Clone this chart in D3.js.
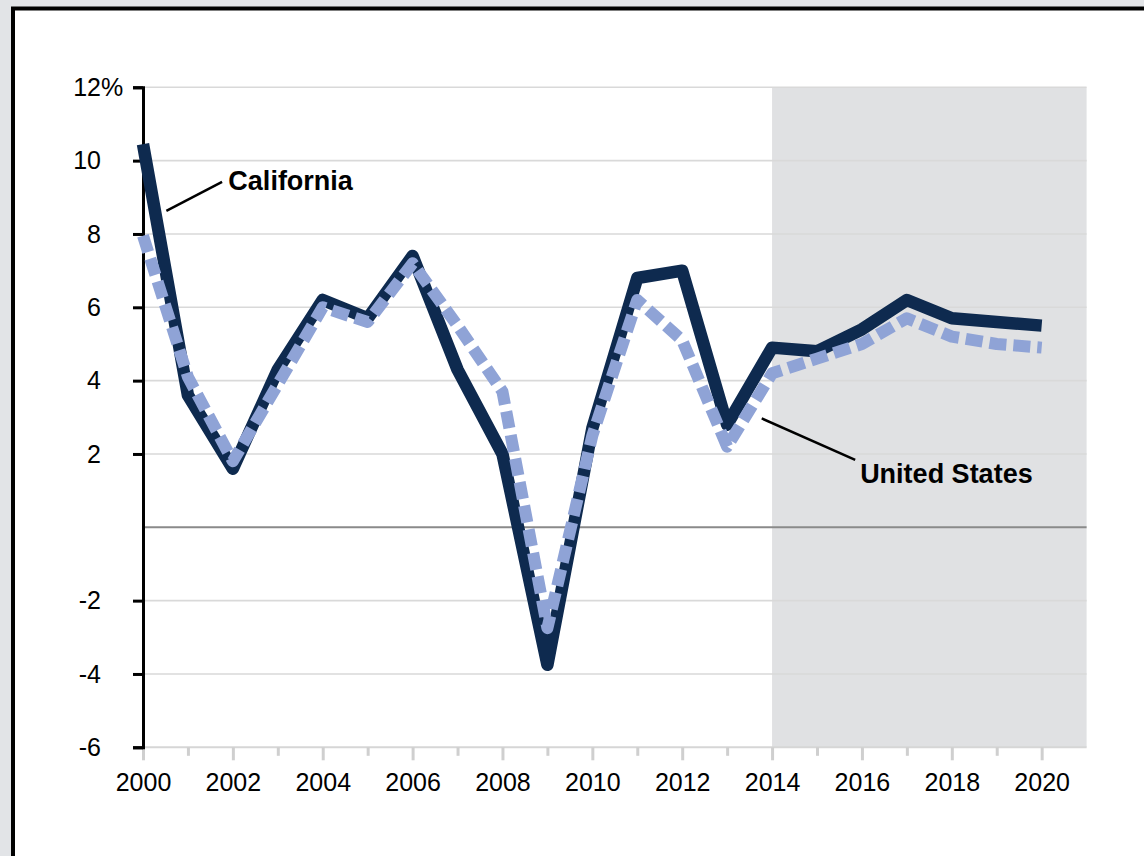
<!DOCTYPE html>
<html><head><meta charset="utf-8">
<script src="https://cdn.jsdelivr.net/npm/d3@7"></script>
<style>
html,body{margin:0;padding:0;background:#e2e4e7;}
svg{display:block;font-family:"Liberation Sans",Arial,Helvetica,sans-serif;}
</style></head>
<body><svg id="c" width="1144" height="856"></svg>
<script>
const years = [2000,2001,2002,2003,2004,2005,2006,2007,2008,2009,2010,2011,2012,2013,2014,2015,2016,2017,2018,2019,2020];
const california = [10.45,3.6,1.6,4.3,6.2,5.7,7.4,4.3,2.0,-3.75,2.7,6.8,7.0,2.8,4.9,4.8,5.4,6.2,5.7,5.6,5.5];
const unitedStates = [7.95,4.1,1.8,3.9,6.0,5.6,7.2,5.5,3.7,-2.75,2.5,6.2,5.1,2.2,4.2,4.6,5.0,5.7,5.2,5.0,4.9];
const yTicks = [-6,-4,-2,0,2,4,6,8,10,12];
const xMajorTicks = [2000,2002,2004,2006,2008,2010,2012,2014,2016,2018,2020];
const xMinorTicks = [2001,2003,2005,2007,2009,2011,2013,2015,2017,2019];
const forecastStart = 2014, forecastEnd = 2021;
const labels = [
  {text:"California", x:2001.9, y:9.2, from:[2000.52,8.63], to:[2001.76,9.42]},
  {text:"United States", x:2015.96, y:1.21, from:[2013.77,2.97], to:[2015.85,1.84]}
];

const svg = d3.select("#c");
const W = 1144, H = 856;
svg.append("rect").attr("x",13).attr("y",8.5).attr("width",W+20).attr("height",H+20)
  .attr("fill","#fff").attr("stroke","#000").attr("stroke-width",4);

const x = d3.scaleLinear().domain([2000,2021]).range([143,1086.6]);
const y = d3.scaleLinear().domain([-6,12]).range([747.3,87.3]);

svg.append("rect").attr("x",x(forecastStart)).attr("y",y(12))
  .attr("width",x(forecastEnd)-x(forecastStart)).attr("height",y(-6)-y(12))
  .attr("fill","#e0e1e3");

svg.append("g").selectAll("line").data(yTicks.filter(d=>d!==0 && d!==-6)).join("line")
  .attr("x1",x(2000)).attr("x2",x(2021)).attr("y1",d=>y(d)).attr("y2",d=>y(d))
  .attr("stroke","#d9d9d9").attr("stroke-width",1.6);
svg.append("line").attr("x1",x(2000)).attr("x2",x(2021)).attr("y1",y(0)).attr("y2",y(0))
  .attr("stroke","#8a8a8a").attr("stroke-width",2);
svg.append("line").attr("x1",x(2000)).attr("x2",x(2021)).attr("y1",y(-6)).attr("y2",y(-6))
  .attr("stroke","#d6d6d6").attr("stroke-width",2);

const FONT = "'Liberation Sans',Arial,sans-serif";
const xMaj = svg.append("g").attr("transform",`translate(0,${y(-6)})`)
  .call(d3.axisBottom(x).tickValues(xMajorTicks).tickFormat(d3.format("d")).tickSize(13).tickPadding(13));
xMaj.select(".domain").remove();
xMaj.selectAll(".tick line").attr("stroke","#cfcfcf").attr("stroke-width",3);
xMaj.selectAll(".tick text").attr("font-size",25).attr("fill","#000").attr("font-family",FONT);
const xMin = svg.append("g").attr("transform",`translate(0,${y(-6)})`)
  .call(d3.axisBottom(x).tickValues(xMinorTicks).tickFormat("").tickSize(8.5));
xMin.select(".domain").remove();
xMin.selectAll(".tick line").attr("stroke","#cfcfcf").attr("stroke-width",3);

const yAx = svg.append("g").attr("transform",`translate(${x(2000)},0)`)
  .call(d3.axisLeft(y).tickValues(yTicks).tickFormat(d=>d===0?"":d).tickSize(10).tickPadding(32));
yAx.select(".domain").attr("stroke","#000").attr("stroke-width",3);
yAx.selectAll(".tick line").attr("stroke",d=>d===0?"none":"#000").attr("stroke-width",3);
yAx.selectAll(".tick text").attr("font-size",25).attr("fill","#000")
  .attr("font-family",FONT).attr("dy","0.33em");
svg.append("text").attr("x",x(2000)-42).attr("y",y(12)).attr("dy","0.33em")
  .attr("font-size",25).attr("fill","#000").attr("font-family",FONT).text("%");

const line = d3.line().x((d,i)=>x(years[i])).y(d=>y(d));
svg.append("path").datum(california).attr("d",line).attr("fill","none")
  .attr("stroke","#0e2a4f").attr("stroke-width",12.5).attr("stroke-linejoin","round");
svg.append("path").datum(unitedStates).attr("d",line).attr("fill","none")
  .attr("stroke","#8fa3d6").attr("stroke-width",12).attr("stroke-linejoin","round")
  .attr("stroke-dasharray","17,7");

labels.forEach(l=>{
  svg.append("line").attr("x1",x(l.from[0])).attr("y1",y(l.from[1]))
    .attr("x2",x(l.to[0])).attr("y2",y(l.to[1])).attr("stroke","#000").attr("stroke-width",2.5);
  svg.append("text").attr("x",x(l.x)).attr("y",y(l.y)).attr("font-size",27).attr("font-weight","bold")
    .attr("fill","#000").attr("font-family",FONT).text(l.text);
});
</script></body></html>
